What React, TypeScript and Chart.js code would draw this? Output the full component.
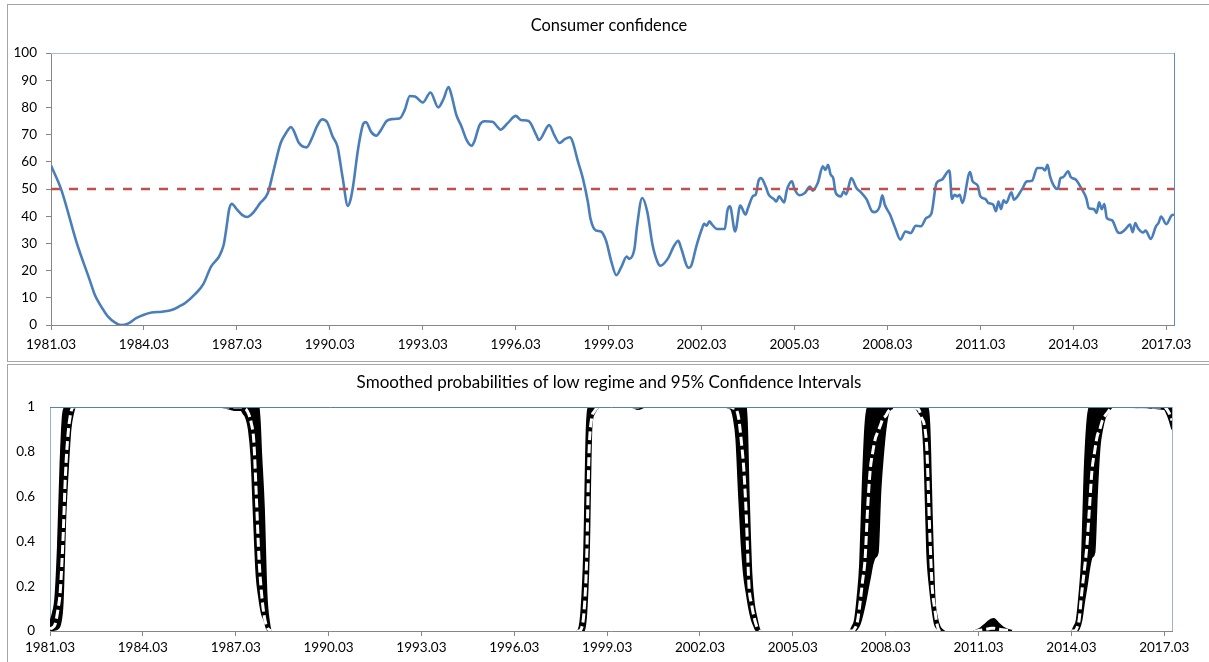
import { useEffect, useRef } from "react";
import { Chart, registerables } from "chart.js";

Chart.register(...registerables);

// Month index 0 = 1981.03; the last observation is 2017.06.
const LAST_MONTH = 435;
const tickMonths = [0, 36, 72, 108, 144, 180, 216, 252, 288, 324, 360, 396, 432];
const tickLabels = [
  "1981.03", "1984.03", "1987.03", "1990.03", "1993.03", "1996.03", "1999.03",
  "2002.03", "2005.03", "2008.03", "2011.03", "2014.03", "2017.03",
];

// Consumer confidence index
const confidenceMonth = [
  0, 4, 10, 15, 17, 19, 22, 25, 27, 30, 33, 36, 39, 43, 47, 50, 52, 56, 59, 62,
  65, 66, 67, 68, 69, 70, 72, 74, 76, 78, 81, 84, 86, 89, 91, 93, 94, 96, 99, 101,
  103, 105, 107, 109, 111, 112, 113, 115, 116, 117, 119, 121, 122, 124, 126, 128, 130, 132, 135, 137,
  139, 141, 144, 147, 150, 152, 154, 155, 157, 159, 161, 163, 164, 166, 168, 171, 173, 174, 177, 180,
  182, 185, 188, 189, 193, 195, 197, 199, 201, 202, 204, 206, 208, 209, 211, 213, 215, 217, 219, 221,
  223, 224, 226, 227, 229, 231, 233, 235, 236, 239, 241, 243, 244, 247, 248, 250, 252, 253, 254, 255,
  256, 258, 261, 262, 263, 265, 267, 269, 270, 272, 273, 274, 275, 277, 278, 280, 281, 282, 284, 285,
  287, 288, 290, 292, 294, 295, 297, 299, 300, 301, 302, 303, 304, 306, 307, 308, 310, 312, 314, 316,
  318, 319, 321, 322, 323, 325, 327, 329, 331, 333, 335, 337, 339, 341, 343, 345, 348, 349, 350, 351,
  352, 353, 356, 357, 359, 360, 362, 363, 365, 366, 367, 368, 369, 370, 372, 373, 376, 378, 380, 382,
  384, 385, 386, 387, 389, 390, 391, 392, 394, 395, 397, 399, 401, 402, 404, 405, 406, 407, 408, 409,
  411, 413, 414, 416, 418, 419, 420, 421, 423, 424, 426, 428, 429, 430, 432, 434, 435,
];
const confidenceValue = [
  58.6, 49.7, 30.1, 16.5, 11, 7.5, 3.2, 0.8, 0, 0.6, 2.5, 3.8, 4.6, 4.9, 5.6, 7, 8.1, 11.5, 15, 21.5,
  25, 27, 30, 36, 42.5, 44.6, 42.5, 40.5, 39.7, 41, 44.8, 48.5, 55.9, 67, 70.5, 72.8, 71.5, 67, 65.3, 68.5,
  73, 75.6, 74.5, 69.5, 65.5, 60, 54, 43.8, 46, 51, 65, 74, 74.6, 71, 69.6, 72, 75, 75.7, 75.9, 79,
  84.2, 84, 81.8, 85.5, 80, 83, 87.5, 85, 77.3, 73, 68, 65.9, 67.5, 73.5, 74.9, 74.7, 72.8, 71.8, 74.3, 76.9,
  75.4, 75, 69.8, 68, 73.5, 69.7, 66.9, 68.3, 69, 67.5, 60.5, 54, 45, 39, 34.8, 34.4, 31, 23.5, 18.3, 21.5,
  25.2, 24.3, 28, 36.3, 46.7, 41.5, 29.5, 23, 21.8, 24.5, 28.5, 31, 28.5, 21, 21.8, 29, 35, 37.2, 36.5, 38.1,
  37, 35.3, 35.3, 42, 43.6, 34.4, 43.9, 40.6, 43, 47.5, 48, 52.8, 54, 50.5, 47.9, 46.3, 45.4, 47.3, 45.1, 49.5,
  52.8, 50, 47.7, 48.5, 50.9, 49.4, 52.2, 58.3, 57, 58.9, 55.3, 54, 48.5, 47.3, 49.1, 48, 54, 50.4, 48.5, 46.1,
  41.8, 41.5, 43.6, 47.7, 44.2, 40.6, 35.7, 31.4, 34.4, 33.8, 36.5, 36.3, 39.3, 40.9, 52.2, 53.4, 56.8, 46.3, 47.9, 47.3,
  47.9, 44.9, 56.2, 52.8, 51.2, 47.3, 46.3, 44.9, 44.2, 41.8, 45.4, 42.6, 45.8, 44.9, 48.8, 46.1, 49.7, 52.8, 53, 57.7,
  57.7, 56.8, 58.9, 54.6, 50.4, 50, 54, 54.3, 56.5, 54.4, 53.4, 50.4, 46.7, 43, 42.6, 41.2, 45.1, 42.6, 44.5, 39.3,
  38.5, 34.4, 33.8, 35, 36.9, 34.1, 37.5, 35.7, 34, 34.7, 31.6, 36.3, 37.5, 39.9, 37.1, 40.2, 40.6,
];
const threshold = 50;

// Smoothed probability of the low regime with its 95% band
const regimeMonth = [
  0, 1, 2, 3, 4, 5, 6, 7, 8, 9, 10,
  66, 68, 70, 72, 74, 75, 76, 77, 78, 79, 80, 81, 82, 83, 84, 85, 86,
  204, 205, 206, 207, 208, 209, 210, 211, 212, 213,
  225, 228, 231,
  262, 263, 264, 265, 266, 267, 268, 269, 270, 271, 272, 273, 274, 275, 276,
  309, 310, 311, 312, 313, 314, 315, 316, 317, 318, 319, 320, 321, 322, 323, 324, 325, 326, 327,
  333, 335, 336, 337, 338, 339, 340, 341, 342, 343, 344, 345, 346, 347,
  358, 359, 360, 361, 362, 363, 364, 365, 366, 367, 368, 369, 370, 371, 372, 373, 374,
  395, 396, 397, 398, 399, 400, 401, 402, 403, 404, 405, 406, 407, 408, 409, 410, 411, 412,
  432, 433, 434, 435,
];
const regimeProb = [
  0.01, 0.015, 0.03, 0.09, 0.18, 0.4, 0.7, 0.88, 0.97, 1, 1,
  1, 1, 1, 1, 1, 0.995, 0.99, 0.97, 0.93, 0.85, 0.6, 0.33, 0.17, 0.07, 0.02, 0.005, 0,
  0, 0, 0.01, 0.08, 0.3, 0.8, 0.95, 0.98, 0.995, 1,
  1, 1, 1,
  1, 1, 1, 0.995, 0.99, 0.95, 0.85, 0.72, 0.5, 0.2, 0.12, 0.06, 0.02, 0, 0,
  0, 0, 0, 0.01, 0.04, 0.12, 0.22, 0.32, 0.55, 0.72, 0.8, 0.86, 0.89, 0.92, 0.95, 0.96, 0.98, 0.99, 0.995,
  1, 1, 0.995, 0.985, 0.95, 0.92, 0.8, 0.465, 0.2, 0.1, 0.025, 0, 0, 0,
  0, 0, 0.002, 0.004, 0.006, 0.008, 0.01, 0.012, 0.012, 0.01, 0.008, 0.006, 0.004, 0.003, 0.002, 0.001, 0,
  0, 0, 0, 0.01, 0.05, 0.17, 0.27, 0.38, 0.55, 0.72, 0.8, 0.87, 0.9, 0.94, 0.96, 0.975, 0.99, 1,
  1, 0.99, 0.97, 0.94,
];
const regimeLower = [
  0, 0.003, 0.005, 0.01, 0.03, 0.13, 0.5, 0.72, 0.9, 0.97, 1,
  1, 0.995, 0.99, 0.985, 0.985, 0.97, 0.95, 0.9, 0.78, 0.5, 0.25, 0.15, 0.08, 0.05, 0.01, 0, 0,
  0, 0, 0, 0, 0.08, 0.35, 0.91, 0.97, 0.99, 1,
  1, 0.99, 1,
  1, 0.995, 0.99, 0.95, 0.86, 0.62, 0.4, 0.25, 0.17, 0.1, 0.05, 0.02, 0, 0, 0,
  0, 0, 0, 0, 0.01, 0.03, 0.07, 0.12, 0.18, 0.24, 0.3, 0.33, 0.35, 0.62, 0.78, 0.9, 0.97, 0.99, 0.995,
  1, 1, 0.99, 0.97, 0.94, 0.76, 0.35, 0.2, 0.1, 0.03, 0.01, 0, 0, 0,
  0, 0, 0, 0, 0, 0, 0, 0, 0, 0, 0, 0, 0, 0, 0, 0, 0,
  0, 0, 0, 0, 0.01, 0.05, 0.13, 0.2, 0.28, 0.33, 0.35, 0.62, 0.82, 0.9, 0.95, 0.97, 0.99, 1,
  0.99, 0.97, 0.94, 0.9,
];
const regimeUpper = [
  0.04, 0.08, 0.15, 0.38, 0.75, 0.97, 1, 1, 1, 1, 1,
  1, 1, 1, 1, 1, 1, 1, 1, 1, 1, 1, 1, 0.78, 0.55, 0.17, 0.04, 0,
  0, 0.01, 0.1, 0.35, 0.9, 1, 1, 1, 1, 1,
  1, 1, 1,
  1, 1, 1, 1, 1, 1, 1, 1, 1, 0.6, 0.26, 0.12, 0.06, 0.01, 0,
  0, 0, 0.02, 0.05, 0.15, 0.3, 0.65, 0.91, 1, 1, 1, 1, 1, 1, 1, 1, 1, 1, 1,
  1, 1, 1, 1, 1, 1, 1, 0.92, 0.5, 0.15, 0.06, 0.02, 0.005, 0,
  0, 0.003, 0.008, 0.015, 0.025, 0.035, 0.045, 0.053, 0.055, 0.045, 0.032, 0.022, 0.014, 0.008, 0.005, 0.002, 0,
  0, 0, 0.02, 0.05, 0.16, 0.32, 0.7, 0.92, 1, 1, 1, 1, 1, 1, 1, 1, 1, 1,
  1, 1, 1, 1,
];

const FONT_FAMILY = "Lato, 'Open Sans', sans-serif";
const tickFont = { family: FONT_FAMILY, size: 13.5 };
const AXIS_GREY = "#868686";

const toPoints = (xs: number[], ys: number[]) => xs.map((x, i) => ({ x, y: ys[i] }));

// Draws the panel heading and the top/right edges of the plot area.
const panelDecor = {
  id: "panelDecor",
  afterDatasetsDraw(chart: any, _args: any, opts: any) {
    const { ctx, chartArea: a } = chart;
    ctx.save();
    ctx.lineWidth = 1;
    ctx.strokeStyle = opts.topColor;
    ctx.beginPath();
    ctx.moveTo(a.left, Math.round(a.top) + 0.5);
    ctx.lineTo(a.right + 1, Math.round(a.top) + 0.5);
    ctx.stroke();
    ctx.strokeStyle = opts.rightColor;
    ctx.beginPath();
    ctx.moveTo(Math.round(a.right) + 0.5, a.top);
    ctx.lineTo(Math.round(a.right) + 0.5, a.bottom);
    ctx.stroke();
    ctx.restore();
  },
  afterDraw(chart: any, _args: any, opts: any) {
    const { ctx } = chart;
    ctx.save();
    ctx.font = `${opts.titleSize}px ${FONT_FAMILY}`;
    ctx.fillStyle = "#000";
    ctx.textAlign = "center";
    ctx.textBaseline = "middle";
    ctx.fillText(opts.title, opts.titleX, opts.titleY);
    ctx.restore();
  },
};

const monthAxis = (labelPadding: number, height: number) => ({
  type: "linear",
  min: 0,
  max: LAST_MONTH,
  afterBuildTicks: (s: any) => {
    s.ticks = tickMonths.map((value) => ({ value }));
  },
  afterFit: (s: any) => {
    s.height = height;
  },
  ticks: {
    autoSkip: false,
    maxRotation: 0,
    padding: labelPadding,
    color: "#000",
    font: tickFont,
    callback: (_v: any, i: number) => tickLabels[i],
  },
  grid: { drawOnChartArea: false, drawTicks: true, tickLength: 5, tickColor: AXIS_GREY, color: AXIS_GREY },
  border: { display: true, color: AXIS_GREY, width: 1 },
});

function confidenceConfig(): any {
  return {
    type: "line",
    data: {
      datasets: [
        {
          label: "Threshold",
          data: [
            { x: 0, y: threshold },
            { x: LAST_MONTH, y: threshold },
          ],
          borderColor: "#c0504d",
          borderWidth: 2.5,
          borderDash: [9, 9],
          pointRadius: 0,
          order: 0,
        },
        {
          label: "Consumer confidence",
          data: toPoints(confidenceMonth, confidenceValue),
          borderColor: "#4a7ebb",
          borderWidth: 2.6,
          cubicInterpolationMode: "monotone",
          pointRadius: 0,
          order: 1,
        },
      ],
    },
    options: {
      responsive: false,
      animation: false,
      devicePixelRatio: 1,
      layout: { padding: { top: 53, right: 35, left: 0, bottom: 0 } },
      scales: {
        x: monthAxis(7, 37),
        y: {
          min: 0,
          max: 100,
          afterFit: (s: any) => {
            s.width = 51;
          },
          ticks: { stepSize: 10, padding: 9, color: "#000", font: tickFont },
          grid: { drawOnChartArea: false, drawTicks: true, tickLength: 5, tickColor: AXIS_GREY, color: AXIS_GREY },
          border: { display: true, color: AXIS_GREY, width: 1 },
        },
      },
      plugins: {
        legend: { display: false },
        tooltip: { enabled: false },
        panelDecor: {
          title: "Consumer confidence",
          titleX: 609,
          titleY: 26,
          titleSize: 16.4,
          topColor: "#a3c0e4",
          rightColor: "#5b8bc9",
        },
      },
    },
    plugins: [panelDecor],
  };
}

const bandIsFlat = (i: number) => Math.abs(regimeUpper[i] - regimeLower[i]) < 0.003;
const flatSegment = (ctx: any) => bandIsFlat(ctx.p0DataIndex) && bandIsFlat(ctx.p1DataIndex);

function regimeConfig(): any {
  const bandEdge = {
    borderColor: "#000",
    borderWidth: 1.5,
    pointRadius: 0,
    cubicInterpolationMode: "monotone",
    segment: { borderColor: (ctx: any) => (flatSegment(ctx) ? "rgba(0,0,0,0)" : "#000") },
  };
  return {
    type: "line",
    data: {
      datasets: [
        {
          label: "Smoothed probability",
          data: toPoints(regimeMonth, regimeProb),
          borderColor: "#ffffff",
          borderWidth: 3,
          cubicInterpolationMode: "monotone",
          pointRadius: 0,
          fill: false,
          segment: { borderDash: (ctx: any) => (flatSegment(ctx) ? [7, 10] : [9, 4]) },
          order: 0,
        },
        {
          label: "Upper 95%",
          data: toPoints(regimeMonth, regimeUpper),
          ...bandEdge,
          fill: { target: 2 },
          backgroundColor: "#000",
          order: 1,
        },
        {
          label: "Lower 95%",
          data: toPoints(regimeMonth, regimeLower),
          ...bandEdge,
          fill: false,
          order: 2,
        },
      ],
    },
    options: {
      responsive: false,
      animation: false,
      devicePixelRatio: 1,
      layout: { padding: { top: 45, right: 37, left: 0, bottom: 0 } },
      scales: {
        x: monthAxis(4, 31),
        y: {
          min: 0,
          max: 1,
          afterFit: (s: any) => {
            s.width = 50;
          },
          ticks: {
            stepSize: 0.2,
            padding: 15,
            color: "#000",
            font: tickFont,
            callback: (v: number) => String(Number(v.toFixed(1))),
          },
          grid: { drawOnChartArea: false, drawTicks: false },
          border: { display: true, color: "#95b3d7", width: 1 },
        },
      },
      plugins: {
        legend: { display: false },
        tooltip: { enabled: false },
        panelDecor: {
          title: "Smoothed probabilities of low regime and 95% Confidence Intervals",
          titleX: 609,
          titleY: 21,
          titleSize: 17,
          topColor: "#4f81bd",
          rightColor: "#a0b4d0",
        },
      },
    },
    plugins: [panelDecor],
  };
}

function ChartCanvas({ config, top, height }: { config: () => any; top: number; height: number }) {
  const ref = useRef<HTMLCanvasElement | null>(null);
  useEffect(() => {
    if (!ref.current) return;
    const chart = new Chart(ref.current, config());
    return () => chart.destroy();
  }, [config]);
  return (
    <canvas
      ref={ref}
      width={1209}
      height={height}
      style={{ position: "absolute", left: 0, top, width: 1209, height, display: "block" }}
    />
  );
}

export default function App() {
  const frame = {
    position: "absolute" as const,
    left: 7,
    width: 1220,
    border: "1px solid #a5a5a5",
    boxSizing: "border-box" as const,
    background: "#fff",
  };
  return (
    <div
      style={{
        position: "fixed",
        left: 0,
        top: 0,
        width: 1209,
        height: 662,
        overflow: "hidden",
        background: "#fff",
      }}
    >
      <div style={{ ...frame, top: 4, height: 358 }} />
      <div style={{ ...frame, top: 364, height: 310 }} />
      <ChartCanvas config={confidenceConfig} top={0} height={362} />
      <ChartCanvas config={regimeConfig} top={362} height={300} />
    </div>
  );
}
